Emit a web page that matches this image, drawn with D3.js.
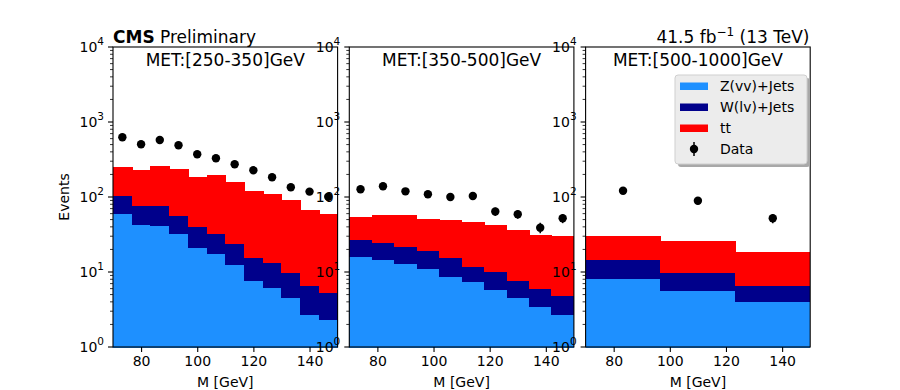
<!DOCTYPE html>
<html><head><meta charset="utf-8">
<script src="https://cdn.jsdelivr.net/npm/d3@7"></script>
<style>body{margin:0;background:#fff}svg{display:block;font-family:"DejaVu Sans",sans-serif}</style>
</head><body><svg id="c" width="900" height="390"></svg>
<script>
// ---- data ----
const panelTitles = ["MET:[250-350]GeV", "MET:[350-500]GeV", "MET:[500-1000]GeV"];
const edges1 = [70, 76.67, 83.33, 90, 96.67, 103.33, 110, 116.67, 123.33, 130, 136.67, 143.33, 150];
const edges2 = [70, 78, 86, 94, 102, 110, 118, 126, 134, 142, 150];
const edges3 = [70, 96.67, 123.33, 150];
const zjets1 = [60, 43.2, 41.5, 32.4, 21.1, 17.5, 12.4, 7.6, 6.2, 4.6, 2.75, 2.3];
const wjets1 = [44, 32.8, 34.5, 25.1, 18.9, 15.5, 11.9, 8.2, 7.0, 5.4, 3.95, 2.95];
const ttbar1 = [149, 153, 185, 178.5, 147, 163, 133.7, 104.2, 96.8, 81, 60.3, 54.75];
const data1  = [625, 504, 575, 489, 371, 328, 273, 227, 183, 135, 118, 101];
const zjets2 = [16.3, 14.5, 12.8, 11.3, 8.8, 7.4, 5.9, 4.6, 3.5, 2.75];
const wjets2 = [11.2, 10.6, 9.4, 7.8, 6.6, 4.6, 4.4, 3.2, 2.6, 2.05];
const ttbar2 = [26.6, 33.0, 35.9, 31.8, 34.0, 34.4, 32.0, 28.5, 25.0, 25.4];
const data2  = [127, 139, 119, 109, 100, 103, 64, 59, 39, 52];
const zjets3 = [8.3, 5.75, 4.1];
const wjets3 = [6.2, 3.95, 2.6];
const ttbar3 = [15.7, 16.2, 11.8];
const data3  = [121, 89, 52];
const seriesNames = ["Z(vv)+Jets", "W(lv)+Jets", "tt"];
const seriesColors = ["#1e90ff", "#00008b", "#ff0000"];
const xTicks = [80, 100, 120, 140];
const yMajor = [1, 10, 100, 1000, 10000];
const yExp = ["0", "1", "2", "3", "4"];

const panels = [
  {edges: edges1, comps: [zjets1, wjets1, ttbar1], data: data1},
  {edges: edges2, comps: [zjets2, wjets2, ttbar2], data: data2},
  {edges: edges3, comps: [zjets3, wjets3, ttbar3], data: data3}
];

const svg = d3.select("#c");
const PW = 224.6, PH = 300, topY = 47;
const lefts = [113, 349.3, 585.6];
const x = d3.scaleLinear().domain([70, 150]).range([0, PW]);
const y = d3.scaleLog().domain([1, 1e4]).range([PH, 0]);
const minor = [];
for (let e = 0; e < 4; e++) for (let m = 2; m <= 9; m++) minor.push(m * Math.pow(10, e));

panels.forEach((p, i) => {
  const g = svg.append("g").attr("transform", `translate(${lefts[i]},${topY})`);
  const rows = p.edges.slice(0, -1).map((e, k) => ({x0: e, x1: p.edges[k + 1], z: p.comps[0][k], w: p.comps[1][k], t: p.comps[2][k], d: p.data[k]}));
  const stack = d3.stack().keys(["z", "w", "t"])(rows);
  stack.forEach((s, si) => {
    g.append("g").selectAll("rect").data(s).join("rect")
      .attr("shape-rendering", "crispEdges")
      .attr("x", d => x(d.data.x0)).attr("width", d => x(d.data.x1) - x(d.data.x0) + (d.data.x1 < 150 ? 0.8 : 0))
      .attr("y", d => y(d[1])).attr("height", d => y(Math.max(d[0], 1)) - y(d[1]) + 0.5)
      .attr("fill", seriesColors[si]);
  });
  // data points
  const dg = g.append("g");
  rows.forEach(r => {
    const cx = x((r.x0 + r.x1) / 2), e = Math.sqrt(r.d);
    dg.append("line").attr("x1", cx).attr("x2", cx).attr("y1", y(r.d - e)).attr("y2", y(r.d + e))
      .attr("stroke", "#000").attr("stroke-width", 1.5);
    dg.append("circle").attr("cx", cx).attr("cy", y(r.d)).attr("r", 4.2).attr("fill", "#000");
  });
  // frame
  g.append("rect").attr("width", PW).attr("height", PH).attr("fill", "none").attr("stroke", "#000").attr("stroke-width", 1.1);
  // x axis
  const xa = g.append("g").attr("transform", `translate(0,${PH})`)
    .call(d3.axisBottom(x).tickValues(xTicks).tickSize(5).tickPadding(4).tickFormat(d3.format("d")));
  xa.select(".domain").remove();
  xa.selectAll("line").attr("stroke-width", 1.1);
  xa.selectAll("text").attr("font-size", 14).attr("font-family", "DejaVu Sans").attr("fill", "#000");
  g.append("text").attr("x", PW / 2).attr("y", PH + 40).attr("text-anchor", "middle")
    .attr("font-size", 14).text("M [GeV]");
  // y axis
  const ya = g.append("g");
  ya.selectAll("line.mn").data(minor).join("line").attr("class", "mn")
    .attr("x1", -3).attr("x2", 0).attr("y1", d => y(d)).attr("y2", d => y(d)).attr("stroke", "#000").attr("stroke-width", 0.8);
  ya.selectAll("line.mj").data(yMajor).join("line").attr("class", "mj")
    .attr("x1", -5).attr("x2", 0).attr("y1", d => y(d)).attr("y2", d => y(d)).attr("stroke", "#000").attr("stroke-width", 1.1);
  yMajor.forEach((v, k) => {
    const t = ya.append("text").attr("x", -9).attr("y", y(v) + 5).attr("text-anchor", "end").attr("font-size", 14);
    t.append("tspan").text("10");
    t.append("tspan").attr("dy", -7).attr("font-size", 10.5).text(yExp[k]);
  });
  // title
  g.append("text").attr("x", PW / 2).attr("y", 19).attr("text-anchor", "middle").attr("font-size", 17).text(panelTitles[i]);
});

// y label
svg.append("text").attr("transform", "translate(69,197) rotate(-90)").attr("text-anchor", "middle")
  .attr("font-size", 14).text("Events");

// header texts
const h = svg.append("text").attr("x", 113).attr("y", 43).attr("font-size", 17);
h.append("tspan").attr("font-weight", "bold").text("CMS");
h.append("tspan").text(" Preliminary");
const l = svg.append("text").attr("x", 809.5).attr("y", 43).attr("font-size", 17).attr("text-anchor", "end");
l.append("tspan").text("41.5 fb");
l.append("tspan").attr("dy", -7).attr("font-size", 12).text("\u22121");
l.append("tspan").attr("dy", 7).text(" (13 TeV)");

// legend
const lg = svg.append("g").attr("transform", "translate(675,75)");
lg.append("rect").attr("x", 3).attr("y", 3).attr("width", 132).attr("height", 89).attr("rx", 3).attr("fill", "#a8a8a8");
lg.append("rect").attr("width", 132).attr("height", 89).attr("rx", 3).attr("fill", "#ececec").attr("stroke", "#cfcfcf");
const legItems = seriesNames.concat(["Data"]);
legItems.forEach((name, k) => {
  const cy = 11 + k * 21;
  if (k < 3) {
    lg.append("rect").attr("x", 5).attr("y", cy - 3.5).attr("width", 28).attr("height", 7.5).attr("fill", seriesColors[k]);
  } else {
    lg.append("line").attr("x1", 19).attr("x2", 19).attr("y1", cy - 7).attr("y2", cy + 7).attr("stroke", "#000").attr("stroke-width", 1.5);
    lg.append("circle").attr("cx", 19).attr("cy", cy).attr("r", 4.2).attr("fill", "#000");
  }
  lg.append("text").attr("x", 45).attr("y", cy + 5).attr("font-size", 14).text(name);
});
</script></body></html>
